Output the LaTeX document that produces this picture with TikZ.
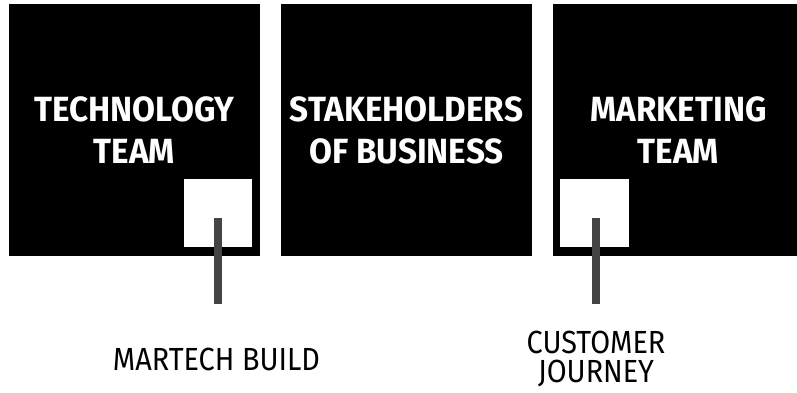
\documentclass[tikz,border=0pt]{standalone}
\usepackage{fontspec}
\setmainfont{Fira Sans}
\newfontfamily\headfont[FakeStretch=0.95]{Fira Sans}
\newfontfamily\labfont[FakeStretch=0.90]{Fira Sans}
\definecolor{stemgray}{HTML}{444444}
\begin{document}
\begin{tikzpicture}[x=1pt,y=-1pt,
  bigbox/.style={fill=black,draw=none},
  smallbox/.style={fill=white,draw=none},
  stem/.style={draw=stemgray,line width=8pt},
  headtext/.style={text=white,align=center,inner sep=0pt,font=\headfont\bfseries\fontsize{35}{42}\selectfont},
  labtext/.style={text=black,anchor=base,inner sep=0pt,font=\labfont\fontsize{32}{27}\selectfont}]
\useasboundingbox (0,0) rectangle (797,393);
\fill[white] (0,0) rectangle (797,393);
\path[bigbox] (9,4) rectangle (260,256);
\path[bigbox] (281,4) rectangle (532,256);
\path[bigbox] (553,4) rectangle (804,256);
\node[headtext] (tech) at (134.5,130) {TECHNOLOGY\\TEAM};
\node[headtext] (stake) at (406.5,130) {STAKEHOLDERS\\OF BUSINESS};
\node[headtext] (mkt) at (678.5,130) {MARKETING\\TEAM};
\path[smallbox] (184,179) rectangle (252,247);
\path[smallbox] (560,179) rectangle (629,247);
\coordinate (s1top) at (218,218);
\coordinate (s1bot) at (218,304);
\coordinate (s2top) at (595.5,218);
\coordinate (s2bot) at (595.5,304);
\draw[stem] (s1top) -- (s1bot);
\draw[stem] (s2top) -- (s2bot);
\node[labtext] (build) at (216.5,370) {MARTECH BUILD};
\node[labtext] (cust) at (596,353) {CUSTOMER};
\node[labtext] (journey) at (596,382) {JOURNEY};
\end{tikzpicture}
\end{document}
